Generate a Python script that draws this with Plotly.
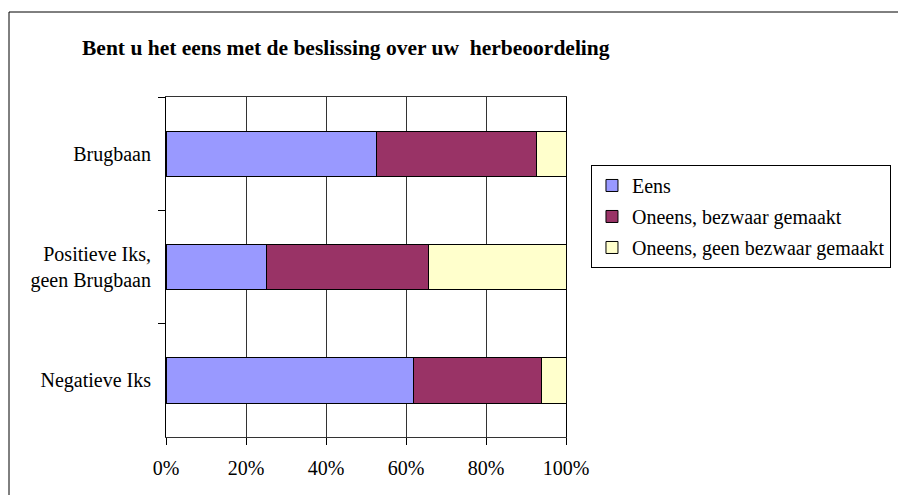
import plotly.graph_objects as go

categories = ["Brugbaan", "Positieve Iks,<br>geen Brugbaan", "Negatieve Iks"]
eens = [52.6, 25.2, 61.8]
oneens_bezwaar = [40.1, 40.4, 32.1]
oneens_geen = [7.3, 34.4, 6.1]

series = [
    ("Eens", eens, "#9999FF"),
    ("Oneens, bezwaar gemaakt", oneens_bezwaar, "#993366"),
    ("Oneens, geen bezwaar gemaakt", oneens_geen, "#FFFFCC"),
]

fig = go.Figure()
for i, (name, vals, col) in enumerate(series):
    fig.add_trace(go.Bar(
        y=categories, x=vals, name=name, orientation="h",
        marker=dict(color=col, line=dict(color="#000000", width=1)),
        legendgroup=str(i),
    ))

fig.update_layout(
    barmode="stack",
    bargap=0.6,
    width=898, height=495,
    margin=dict(l=166, r=332, t=97, b=58, autoexpand=False),
    paper_bgcolor="white", plot_bgcolor="white",
    font=dict(family="Liberation Serif", size=20, color="#000000"),
    showlegend=True,
    legend=dict(
        xref="container", yref="container",
        x=0.6581, xanchor="left", y=0.6667, yanchor="top",
        bordercolor="#000000", borderwidth=1,
        font=dict(size=20), tracegroupgap=2,
        itemwidth=30,
    ),
    shapes=[dict(type="rect", xref="paper", yref="paper",
                 x0=-0.3925, x1=2.0, y0=-0.4, y1=1.25,
                 line=dict(color="#000000", width=1), layer="below")],
    annotations=[dict(text="<b>Bent u het eens met de beslissing over uw  herbeoordeling</b>",
                      xref="paper", yref="paper", x=-0.215, y=1.144,
                      xanchor="left", yanchor="middle", showarrow=False,
                      font=dict(size=21.5))],
)

fig.update_xaxes(
    range=[0, 100], tickvals=[0, 20, 40, 60, 80, 100],
    ticktext=["0%", "20%", "40%", "60%", "80%", "100%"],
    showgrid=True, gridcolor="#333333", gridwidth=1,
    showline=True, linecolor="#333333", linewidth=1, mirror=True,
    ticks="outside", ticklen=7, tickcolor="#000000",
    ticklabelstandoff=6, zeroline=False,
)
fig.update_yaxes(
    autorange="reversed", tickson="boundaries",
    ticks="outside", ticklen=7, tickcolor="#000000",
    showline=True, linecolor="#000000", linewidth=1, mirror=True,
    showgrid=False, ticklabelstandoff=10,
)

# drop the default 8px body margin so the figure sits at the window corner
fig.write_html("out.html", config={"displayModeBar": False},
               post_script="document.body.style.margin='0';")
